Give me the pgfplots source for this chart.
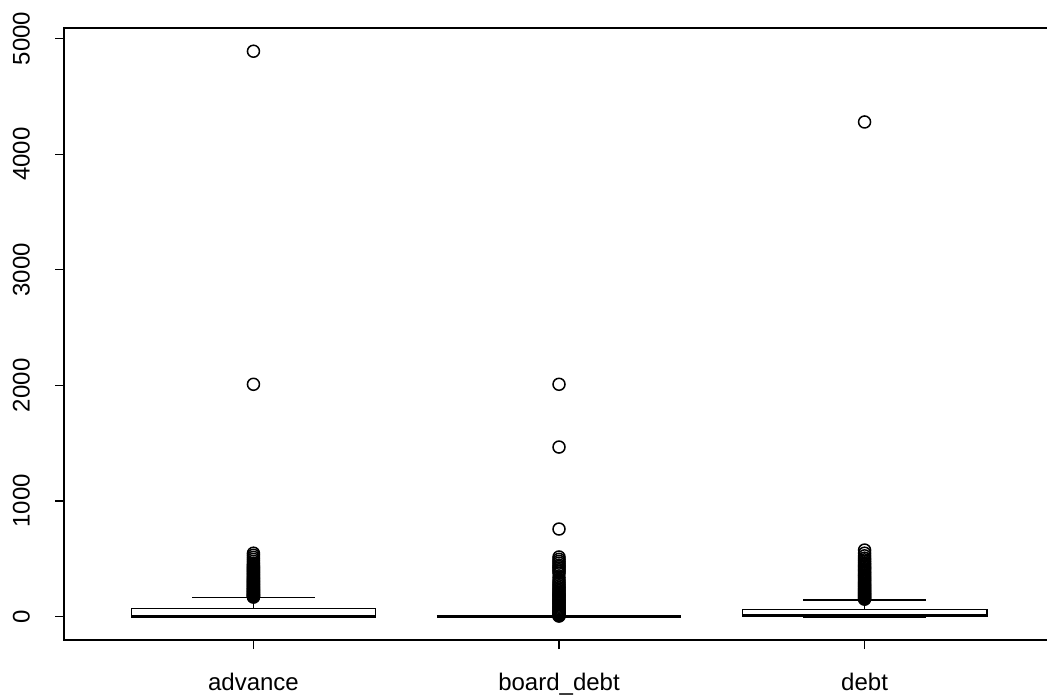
\documentclass[border=0pt]{standalone}
\usepackage{pgfplots}
\pgfplotsset{compat=1.18}
\usepackage{fontspec}
\setmainfont{Liberation Sans}
\begin{document}
\begin{tikzpicture}
\begin{axis}[
  at={(32pt,28pt)}, anchor=south west,
  scale only axis, width=495pt, height=306pt,
  xmin=0.38, xmax=3.62, ymin=-203, ymax=5091,
  xtick={1,2,3}, xticklabels={advance,board\_debt,debt},
  ytick={0,1000,2000,3000,4000,5000},
  tick pos=left, tick align=outside, major tick length=4.5pt,
  every tick/.style={black, line width=0.6pt},
  axis line style={line width=0.7pt},
  /pgf/number format/assume math mode=true,
  /pgf/number format/set thousands separator={},
  ticklabel style={font=\fontsize{12}{14}\selectfont},
  yticklabel style={rotate=90, anchor=south},
  xticklabel style={anchor=north},
  xticklabel shift=8.5pt,
  yticklabel shift=9pt,
  clip=false,
]
% outliers
\addplot[only marks, mark=o, mark size=3pt, mark options={line width=0.75pt, black}] coordinates {
(1,4890) (1,2009) (1,548) (1,530) (1,512) (1,495) (1,478) (1,462) (1,450) (1,440) (1,432) (1,425) (1,418) (1,410) (1,402) (1,395) (1,388) (1,380) (1,372) (1,365) (1,358) (1,350) (1,343) (1,336) (1,330) (1,323) (1,316) (1,310) (1,303) (1,297) (1,290) (1,284) (1,278) (1,272) (1,266) (1,260) (1,254) (1,248) (1,243) (1,238) (1,232) (1,227) (1,222) (1,217) (1,212) (1,207) (1,202) (1,197) (1,192) (1,188) (1,184) (1,180) (1,176) (1,172) (1,168)
};
\addplot[only marks, mark=o, mark size=3pt, mark options={line width=0.75pt, black}] coordinates {
(2,2009) (2,1466) (2,757) (2,515) (2,495) (2,478) (2,462) (2,445) (2,432) (2,420) (2,405) (2,390) (2,375) (2,340) (2,315) (2,295) (2,280) (2,265) (2,250) (2,238) (2,225) (2,212) (2,200) (2,190) (2,180) (2,170) (2,160) (2,150) (2,140) (2,130) (2,120) (2,110) (2,100) (2,90) (2,80) (2,70) (2,60) (2,50) (2,42) (2,35) (2,28) (2,20) (2,14) (2,8) (2,4)
};
\addplot[only marks, mark=o, mark size=3pt, mark options={line width=0.75pt, black}] coordinates {
(3,4278) (3,575) (3,548) (3,525) (3,505) (3,490) (3,475) (3,460) (3,448) (3,436) (3,425) (3,414) (3,403) (3,392) (3,381) (3,370) (3,360) (3,350) (3,340) (3,330) (3,320) (3,310) (3,300) (3,290) (3,281) (3,272) (3,263) (3,254) (3,245) (3,237) (3,229) (3,221) (3,213) (3,205) (3,198) (3,191) (3,184) (3,177) (3,170) (3,163) (3,156) (3,150)
};
% advance box
\addplot[black, dashed, line width=0.6pt] coordinates {(1,71) (1,166)};
\addplot[black, dashed, line width=0.6pt] coordinates {(1,0) (1,-7)};
\addplot[black, line width=0.7pt] coordinates {(0.8,166) (1.2,166)};
\addplot[black, line width=0.7pt] coordinates {(0.8,-7) (1.2,-7)};
\addplot[black, fill=white, line width=0.7pt] coordinates {(0.6,0) (1.4,0) (1.4,71) (0.6,71)} -- cycle;
\addplot[black, line width=1.5pt] coordinates {(0.6,2) (1.4,2)};
% board_debt box
\addplot[black, line width=0.7pt] coordinates {(1.8,0) (2.2,0)};
\addplot[black, line width=1.5pt] coordinates {(1.6,0) (2.4,0)};
% debt box
\addplot[black, dashed, line width=0.6pt] coordinates {(3,62) (3,143)};
\addplot[black, dashed, line width=0.6pt] coordinates {(3,0) (3,-5)};
\addplot[black, line width=0.7pt] coordinates {(2.8,143) (3.2,143)};
\addplot[black, line width=0.7pt] coordinates {(2.8,-5) (3.2,-5)};
\addplot[black, fill=white, line width=0.7pt] coordinates {(2.6,4) (3.4,4) (3.4,62) (2.6,62)} -- cycle;
\addplot[black, line width=1.5pt] coordinates {(2.6,6) (3.4,6)};
\end{axis}
\pgfresetboundingbox
\useasboundingbox (0,0) rectangle (523.5pt,348pt);
\end{tikzpicture}
\end{document}
